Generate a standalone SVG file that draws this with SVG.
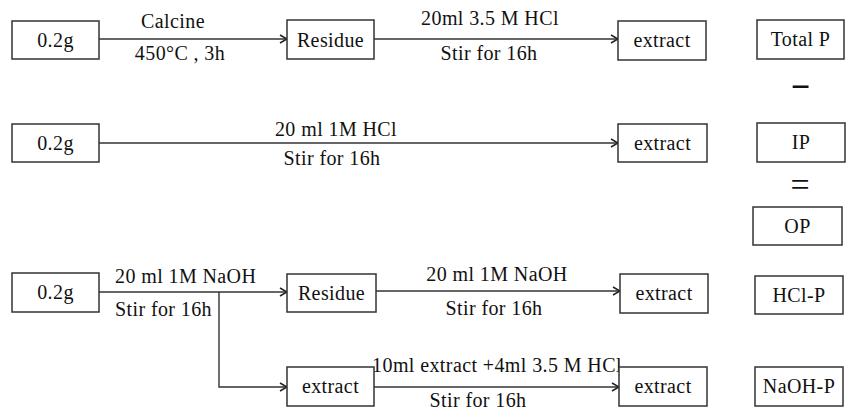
<svg xmlns="http://www.w3.org/2000/svg" width="849" height="413" viewBox="0 0 849 413">
<defs>
<marker id="arr" viewBox="0 0 10 10" refX="9" refY="5" markerWidth="10" markerHeight="10" markerUnits="userSpaceOnUse" orient="auto">
<path d="M2,1 L9,5 L2,9" fill="none" stroke="#222" stroke-width="1.5"/>
</marker>
<style>
.box{fill:#fff;stroke:#333;stroke-width:1.5}
text{font-family:"Liberation Serif","Times New Roman",serif;font-size:20px;letter-spacing:0.4px;fill:#111}
.c{text-anchor:middle}
.ln{fill:none;stroke:#333;stroke-width:1.4}
</style>
</defs>
<g id="connectors">
<line class="ln" x1="99" y1="39" x2="287" y2="39" marker-end="url(#arr)"/>
<line class="ln" x1="374" y1="39" x2="618" y2="39" marker-end="url(#arr)"/>
<line class="ln" x1="99" y1="143" x2="618" y2="143" marker-end="url(#arr)"/>
<line class="ln" x1="99" y1="292" x2="287" y2="292" marker-end="url(#arr)"/>
<polyline class="ln" points="219,292 219,387 287,387" marker-end="url(#arr)"/>
<line class="ln" x1="376" y1="291" x2="620" y2="291" marker-end="url(#arr)"/>
<line class="ln" x1="374" y1="387" x2="619" y2="387" marker-end="url(#arr)"/>
<text class="c" x="173" y="28">Calcine</text>
<text class="c" x="180" y="60">450°C , 3h</text>
<text class="c" x="490" y="25">20ml 3.5 M HCl</text>
<text class="c" x="489" y="60">Stir for 16h</text>
<text class="c" x="336" y="136">20 ml 1M HCl</text>
<text class="c" x="332" y="165">Stir for 16h</text>
<text x="115" y="283">20 ml 1M NaOH</text>
<text x="115" y="316">Stir for 16h</text>
<text class="c" x="497" y="281">20 ml 1M NaOH</text>
<text class="c" x="494" y="315">Stir for 16h</text>
<text class="c" x="497" y="372">10ml extract +4ml 3.5 M HCl</text>
<text class="c" x="478" y="407">Stir for 16h</text>
</g>
<g id="n1"><rect class="box" x="12" y="21" width="87" height="38"/><text class="c" x="55.5" y="46.5">0.2g</text></g>
<g id="n2"><rect class="box" x="287" y="20" width="87" height="39"/><text class="c" x="330.5" y="46.5">Residue</text></g>
<g id="n3"><rect class="box" x="618" y="21" width="88" height="39"/><text class="c" x="662" y="47">extract</text></g>
<g id="n4"><rect class="box" x="757" y="20" width="87" height="39"/><text class="c" x="800.5" y="46">Total P</text></g>
<g id="n5"><rect class="box" x="12" y="124" width="87" height="38"/><text class="c" x="55.5" y="150">0.2g</text></g>
<g id="n6"><rect class="box" x="618" y="124" width="89" height="38"/><text class="c" x="662.5" y="150">extract</text></g>
<g id="n7"><rect class="box" x="757" y="123" width="88" height="39"/><text class="c" x="801" y="149">IP</text></g>
<g id="n8"><rect class="box" x="753" y="207" width="89" height="38"/><text class="c" x="797.5" y="233">OP</text></g>
<g id="n9"><rect class="box" x="12" y="273" width="87" height="39"/><text class="c" x="55.5" y="299">0.2g</text></g>
<g id="n10"><rect class="box" x="287" y="274" width="89" height="38"/><text class="c" x="331.5" y="300">Residue</text></g>
<g id="n11"><rect class="box" x="620" y="274" width="88" height="39"/><text class="c" x="664" y="300">extract</text></g>
<g id="n12"><rect class="box" x="755" y="276" width="88" height="38"/><text class="c" x="799" y="302">HCl-P</text></g>
<g id="n13"><rect class="box" x="287" y="367" width="87" height="39"/><text class="c" x="330.5" y="393">extract</text></g>
<g id="n14"><rect class="box" x="619" y="367" width="88" height="39"/><text class="c" x="663" y="393">extract</text></g>
<g id="n15"><rect class="box" x="755" y="367" width="88" height="39"/><text class="c" x="799" y="393">NaOH-P</text></g>
<g id="ops">
<text class="c" x="800.5" y="98" style="font-size:34px;font-weight:bold;letter-spacing:0">−</text>
<text class="c" x="800" y="196" style="font-size:34px;letter-spacing:0">=</text>
</g>
</svg>
